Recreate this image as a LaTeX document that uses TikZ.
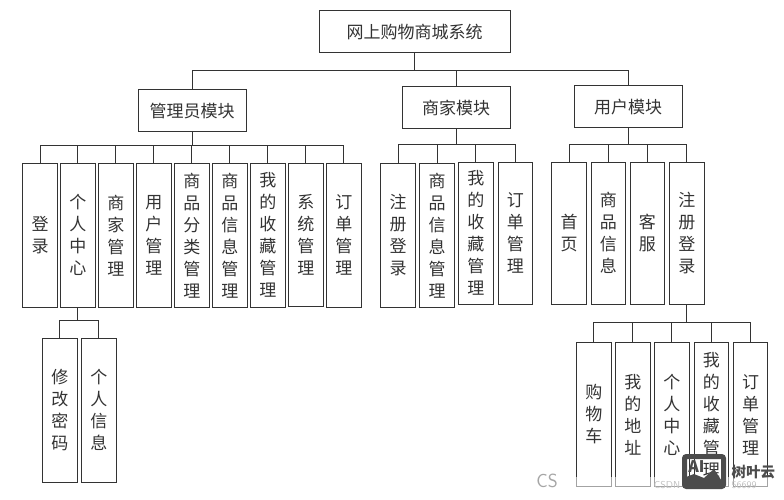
\documentclass[tikz,border=0pt]{standalone}
\usepackage{fontspec}
\newfontfamily\cjk{Noto Sans CJK SC}
\usepackage{xcolor}
\usetikzlibrary{positioning,calc}
\definecolor{inkgray}{HTML}{333333}
\begin{document}
\begin{tikzpicture}[
  x=1pt, y=-1pt,
  block/.style={draw=inkgray, line width=1pt, inner sep=0pt, align=center, text=inkgray, font={\cjk\fontsize{17}{22}\selectfont}},
  wide/.style={block, minimum width=108pt, minimum height=42pt},
  tall/.style={block, minimum width=34.5pt, minimum height=143.5pt},
  short/.style={tall, minimum height=142.5pt},
  link/.style={draw=inkgray, line width=1pt}
]
  \useasboundingbox (0,0) rectangle (784,500);

  % Top level
  \node[wide, minimum width=191pt] (root) at (414.5, 32) {网上购物商城系统};
  \node[wide] (admin) at (192, 111) {管理员模块};
  \node[wide] (shop) at (456, 108) {商家模块};
  \node[wide] (user) at (628, 107) {用户模块};

  % Admin children
  \foreach \n/\x/\t in {a1/40/登\\录, a2/77.75/个\\人\\中\\心, a3/115.75/商\\家\\管\\理, a4/153.75/用\\户\\管\\理,
      a5/191.75/商\\品\\分\\类\\管\\理, a6/229.75/商\\品\\信\\息\\管\\理, a7/267.75/我\\的\\收\\藏\\管\\理, a9/343.75/订\\单\\管\\理} {
    \node[tall] (\n) at (\x, 235.25) {\t};
  }
  \node[short] (a8) at (305.75, 234.75) {系\\统\\管\\理};

  % Admin grandchildren
  \foreach \n/\x/\t in {p1/59.75/修\\改\\密\\码, p2/98.75/个\\人\\信\\息} {
    \node[tall] (\n) at (\x, 410.25) {\t};
  }

  % Shop children
  \foreach \n/\x/\t in {s1/398/注\\册\\登\\录, s2/437/商\\品\\信\\息\\管\\理} {
    \node[tall] (\n) at (\x, 235.25) {\t};
  }
  \foreach \n/\x/\t in {s3/475.75/我\\的\\收\\藏\\管\\理, s4/515.25/订\\单\\管\\理} {
    \node[short] (\n) at (\x, 233.25) {\t};
  }

  % User children
  \foreach \n/\x/\t in {u1/569/首\\页, u2/608.25/商\\品\\信\\息, u3/647.25/客\\服, u4/686.75/注\\册\\登\\录} {
    \node[short] (\n) at (\x, 233.25) {\t};
  }

  % User grandchildren
  \foreach \n/\x/\t in {c1/593.75/购\\物\\车, c2/632.75/我\\的\\地\\址, c3/671.75/个\\人\\中\\心, c4/711.25/我\\的\\收\\藏\\管\\理, c5/750.5/订\\单\\管\\理} {
    \node[tall] (\n) at (\x, 414.5) {\t};
  }

  % Bus heights
  \coordinate (rootbus) at (415, 71);
  \coordinate (adminbus) at (192, 145);
  \coordinate (shopbus) at (456, 144);
  \coordinate (userbus) at (628, 144);
  \coordinate (twobus) at (78, 320);
  \coordinate (fourbus) at (687, 322.5);

  % Connectors
  \foreach \n in {admin, shop, user} {
    \draw[link] (root.south) -- (root.south |- rootbus) -| (\n.north);
  }
  \foreach \n in {a1, a2, a3, a4, a5, a6, a7, a8, a9} {
    \draw[link] (admin.south) -- (admin.south |- adminbus) -| (\n.north);
  }
  \foreach \n in {s1, s2, s3, s4} {
    \draw[link] (shop.south) -- (shop.south |- shopbus) -| (\n.north);
  }
  \foreach \n in {u1, u2, u3, u4} {
    \draw[link] (user.south) -- (user.south |- userbus) -| (\n.north);
  }
  \foreach \n in {p1, p2} {
    \draw[link] (a2.south) -- (a2.south |- twobus) -| (\n.north);
  }
  \foreach \n in {c1, c2, c3, c4, c5} {
    \draw[link] (u4.south) -- (u4.south |- fourbus) -| (\n.north);
  }

  % Watermarks
  \fill[white, opacity=0.55] (525, 477) rectangle (784, 500);
  \node[font=\sffamily\fontsize{19}{19}\selectfont, text=gray!70] (csmark) at (547, 481) {CS};
  \node[font=\sffamily\fontsize{10}{10}\selectfont, text=gray!50] (csdnmark) at (667, 485) {CSDN};
  \node[font=\sffamily\fontsize{10}{10}\selectfont, text=gray!50] (nummark) at (744, 485) {56699};
  \node[draw=black!70, line width=5pt, rounded corners=2pt, minimum width=39pt, minimum height=30pt, inner sep=0pt] (logo) at (704, 471.5) {};
  \fill[black!70] (686, 486) -- (686, 477) -- (694, 474) -- (704, 478) -- (714, 469) -- (725, 486) -- cycle;
  \node[font={\cjk\bfseries\fontsize{16}{16}\selectfont}, text=black!70] (logotext) at (696.5, 467) {AI};
  \node[font={\cjk\bfseries\fontsize{14.5}{14.5}\selectfont}, text=black!70, right=2pt of logo, yshift=-1pt] (brand) {树叶云};
\end{tikzpicture}
\end{document}
